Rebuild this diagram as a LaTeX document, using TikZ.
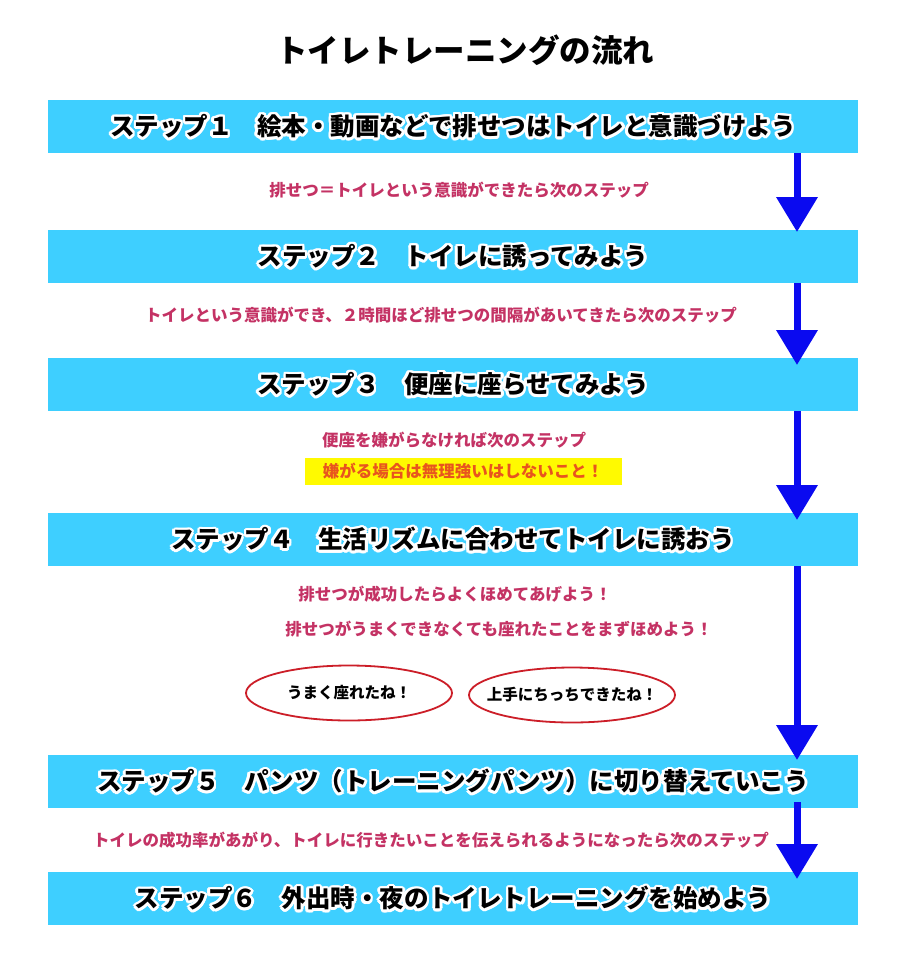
\documentclass[tikz,border=0pt]{standalone}
\usepackage{fontspec}
\setmainfont{Noto Sans CJK JP}
\usetikzlibrary{arrows.meta,shapes.geometric}
\definecolor{cyanband}{RGB}{62,207,255}
\definecolor{magtxt}{RGB}{196,50,100}
\definecolor{warnyel}{RGB}{255,250,0}
\definecolor{warntxt}{RGB}{232,84,30}
\definecolor{arrowblue}{RGB}{10,10,240}
\definecolor{ellred}{RGB}{204,30,40}
\newcommand\bandtitle[3]{%
  \foreach \ang in {0,22.5,...,337.5}{\node[bandtxt,text=white] at ([shift={(\ang:2.7)}]#2) {#3};}
  \node[bandtxt] (#1) at (#2) {#3};}
\begin{document}
\begin{tikzpicture}[x=1pt,y=-1pt,
  band/.style={fill=cyanband, minimum width=810pt, minimum height=53pt, inner sep=0pt},
  bandtxt/.style={font=\fontsize{24.5}{28}\selectfont\bfseries, inner sep=0pt},
  midtxt/.style={font=\fontsize{16.5}{20}\selectfont\bfseries, text=magtxt, inner sep=0pt},
  flow/.style={draw=arrowblue, line width=7pt, -{Triangle[width=40pt,length=35pt]}},
  praise/.style={ellipse, draw=ellred, line width=1.8pt, minimum width=206pt, minimum height=55pt,
    inner xsep=-14pt, inner ysep=0pt, font=\fontsize{15.5}{18}\selectfont\bfseries}]
\useasboundingbox[fill=white] (0,0) rectangle (912,954);
% title
\node[font=\fontsize{31.5}{36}\selectfont\bfseries, inner sep=0pt] (title) at (465,50) {トイレトレーニングの流れ};
% bands
\node[band] (b1) at (453,126.5) {};
\node[band] (b2) at (453,256.5) {};
\node[band] (b3) at (453,384.5) {};
\node[band] (b4) at (453,539.5) {};
\node[band] (b5) at (453,781.5) {};
\node[band] (b6) at (453,898.5) {};
% arrows
\coordinate (t1) at (797,232);
\coordinate (t2) at (797,365);
\coordinate (t3) at (797,520);
\coordinate (t4) at (797,760);
\coordinate (t5) at (797,879);
\draw[flow] (b1.south -| t1) -- (t1);
\draw[flow] (b2.south -| t2) -- (t2);
\draw[flow] (b3.south -| t3) -- (t3);
\draw[flow] (b4.south -| t4) -- (t4);
\draw[flow] ([yshift=6pt]b5.south -| t5) -- (t5);
% band titles
\bandtitle{s1}{b1}{ステップ１　絵本・動画などで排せつはトイレと意識づけよう}
\bandtitle{s2}{b2}{ステップ２　トイレに誘ってみよう}
\bandtitle{s3}{b3}{ステップ３　便座に座らせてみよう}
\bandtitle{s4}{b4}{ステップ４　生活リズムに合わせてトイレに誘おう}
\bandtitle{s5}{b5}{ステップ５　パンツ（トレーニングパンツ）に切り替えていこう}
\bandtitle{s6}{b6}{ステップ６　外出時・夜のトイレトレーニングを始めよう}
% middle texts
\node[midtxt] (m1) at (459,190) {排せつ＝トイレという意識ができたら次のステップ};
\node[midtxt] (m2) at (441,315) {トイレという意識ができ、２時間ほど排せつの間隔があいてきたら次のステップ};
\node[midtxt] (m3) at (454,440) {便座を嫌がらなければ次のステップ};
\node[fill=warnyel, minimum width=317pt, minimum height=27pt, inner sep=0pt, text=warntxt,
      font=\fontsize{16.5}{20}\selectfont\bfseries] (warn) at (463,471.5) {嫌がる場合は無理強いはしないこと！};
\node[midtxt] (m4) at (455,594) {排せつが成功したらよくほめてあげよう！};
\node[midtxt] (m5) at (499,629) {排せつがうまくできなくても座れたことをまずほめよう！};
\node[praise] (e1) at (349,693) {うまく座れたね！};
\node[praise] (e2) at (572,695) {上手にちっちできたね！};
\node[midtxt] (m6) at (431,840) {トイレの成功率があがり、トイレに行きたいことを伝えられるようになったら次のステップ};
\end{tikzpicture}
\end{document}
